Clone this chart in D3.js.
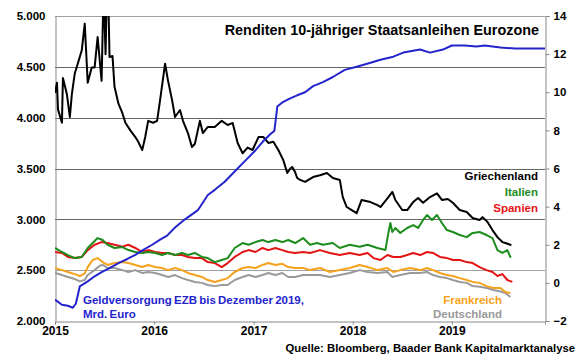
<!DOCTYPE html>
<html>
<head>
<meta charset="utf-8">
<script src="https://cdn.jsdelivr.net/npm/d3@7"></script>
<style>
  html, body { margin: 0; padding: 0; background: #fff; }
  svg { display: block; }
  text { font-family: "Liberation Sans", Arial, sans-serif; font-weight: bold; }
</style>
</head>
<body>
<svg id="chart" width="580" height="359"></svg>
<script>
// ---------- DATA (time as decimal year, yields in %, EZB in Mrd. Euro) ----------
const title = "Renditen 10-jähriger Staatsanleihen Eurozone";
const source = "Quelle: Bloomberg, Baader Bank Kapitalmarktanalyse";
const yearTicks = [2015, 2016, 2017, 2018, 2019];
const leftTicks = [2000, 2500, 3000, 3500, 4000, 4500, 5000];
const rightTicks = [-2, 0, 2, 4, 6, 8, 10, 12, 14];

const ezbData = [
  [2015.00,2210],[2015.07,2160],[2015.13,2150],[2015.18,2130],[2015.21,2170],[2015.25,2340],
  [2015.33,2390],[2015.40,2440],[2015.47,2480],[2015.55,2520],[2015.64,2570],[2015.73,2610],
  [2015.81,2650],[2015.89,2700],[2015.98,2750],[2016.06,2800],[2016.13,2840],[2016.21,2920],
  [2016.31,3000],[2016.44,3090],[2016.54,3240],[2016.61,3290],[2016.71,3370],[2016.81,3470],
  [2016.92,3580],[2017.02,3680],[2017.09,3760],[2017.17,3840],[2017.21,3870],[2017.24,4110],
  [2017.29,4150],[2017.37,4190],[2017.44,4220],[2017.52,4250],[2017.60,4310],[2017.70,4350],
  [2017.80,4400],[2017.92,4470],[2018.04,4500],[2018.18,4540],[2018.28,4570],[2018.41,4600],
  [2018.51,4640],[2018.68,4670],[2018.78,4640],[2018.91,4670],[2019.00,4710],[2019.13,4710],
  [2019.25,4700],[2019.33,4710],[2019.49,4690],[2019.64,4680],[2019.94,4680]
];

const greeceData = [
  [2015.00,9.96],[2015.02,10.5],[2015.03,9.1],[2015.07,8.4],[2015.08,10.75],[2015.12,9.9],
  [2015.15,8.7],[2015.17,9.9],[2015.20,11.0],[2015.23,11.5],[2015.27,12.2],[2015.30,13.6],
  [2015.33,10.5],[2015.37,11.3],[2015.40,11.3],[2015.43,12.9],[2015.47,10.6],[2015.49,15.5],
  [2015.51,12.0],[2015.53,17.0],[2015.55,11.85],[2015.58,11.9],[2015.60,10.3],[2015.64,9.4],
  [2015.68,8.9],[2015.71,8.4],[2015.76,8.0],[2015.81,7.65],[2015.84,7.4],[2015.88,6.97],
  [2015.91,7.65],[2015.94,8.5],[2015.99,8.4],[2016.03,8.5],[2016.06,9.6],[2016.11,11.5],
  [2016.14,10.6],[2016.18,9.6],[2016.21,8.7],[2016.26,9.07],[2016.29,8.5],[2016.34,7.86],
  [2016.38,7.13],[2016.41,7.3],[2016.46,8.5],[2016.49,7.86],[2016.54,8.18],[2016.61,8.18],
  [2016.68,8.5],[2016.74,8.28],[2016.79,8.39],[2016.84,7.34],[2016.89,6.8],[2016.94,7.1],
  [2016.99,6.97],[2017.05,7.65],[2017.10,7.65],[2017.15,7.34],[2017.20,7.4],[2017.25,6.97],
  [2017.30,6.44],[2017.34,5.76],[2017.37,6.0],[2017.39,6.08],[2017.42,5.8],[2017.44,5.5],
  [2017.47,5.4],[2017.52,5.3],[2017.60,5.55],[2017.67,5.65],[2017.74,5.76],[2017.80,5.5],
  [2017.87,5.4],[2017.90,4.5],[2017.94,3.98],[2017.99,3.82],[2018.04,3.66],[2018.09,4.35],
  [2018.18,4.24],[2018.25,4.08],[2018.28,3.98],[2018.36,4.5],[2018.40,4.77],[2018.43,4.35],
  [2018.50,3.82],[2018.55,3.82],[2018.61,4.24],[2018.66,4.45],[2018.71,4.2],[2018.78,4.5],
  [2018.85,4.7],[2018.90,4.35],[2018.96,4.4],[2019.01,4.2],[2019.08,3.82],[2019.15,3.72],
  [2019.21,3.4],[2019.28,3.3],[2019.31,3.45],[2019.36,3.19],[2019.41,2.77],[2019.46,2.4],
  [2019.51,2.14],[2019.54,2.09],[2019.59,2.0],[2019.60,1.97]
];

const italyData = [
  [2015.00,1.83],[2015.07,1.62],[2015.13,1.46],[2015.20,1.30],[2015.27,1.36],[2015.33,1.83],
  [2015.38,2.09],[2015.43,2.35],[2015.48,2.25],[2015.53,2.0],[2015.60,1.83],[2015.68,1.88],
  [2015.74,1.72],[2015.81,1.62],[2015.88,1.57],[2015.94,1.62],[2016.01,1.57],[2016.08,1.46],
  [2016.14,1.57],[2016.21,1.46],[2016.28,1.57],[2016.34,1.46],[2016.41,1.57],[2016.48,1.36],
  [2016.54,1.30],[2016.61,1.09],[2016.68,1.2],[2016.74,1.30],[2016.81,1.83],[2016.89,2.09],
  [2016.95,2.0],[2017.02,2.14],[2017.09,2.25],[2017.15,2.14],[2017.22,2.25],[2017.29,2.14],
  [2017.35,2.25],[2017.42,2.09],[2017.50,2.35],[2017.57,2.0],[2017.64,2.09],[2017.70,2.0],
  [2017.80,2.09],[2017.87,1.83],[2017.97,2.0],[2018.07,1.9],[2018.15,2.0],[2018.25,1.83],
  [2018.33,1.72],[2018.36,2.62],[2018.38,3.14],[2018.40,2.67],[2018.43,2.88],[2018.48,2.62],
  [2018.55,2.88],[2018.61,3.03],[2018.66,2.88],[2018.71,3.3],[2018.75,3.56],[2018.80,3.3],
  [2018.85,3.56],[2018.90,3.14],[2018.95,2.77],[2019.01,2.67],[2019.08,2.51],[2019.15,2.4],
  [2019.21,2.62],[2019.28,2.67],[2019.35,2.51],[2019.41,2.35],[2019.46,1.72],[2019.51,1.57],
  [2019.56,1.72],[2019.59,1.36],[2019.60,1.35]
];

const spainData = [
  [2015.00,1.62],[2015.07,1.57],[2015.13,1.36],[2015.20,1.30],[2015.27,1.36],[2015.33,1.72],
  [2015.40,2.0],[2015.47,2.14],[2015.53,2.09],[2015.60,2.0],[2015.68,1.9],[2015.74,2.0],
  [2015.81,1.83],[2015.88,1.62],[2015.94,1.72],[2016.01,1.62],[2016.08,1.57],[2016.14,1.57],
  [2016.21,1.46],[2016.28,1.46],[2016.34,1.36],[2016.41,1.30],[2016.48,1.30],[2016.54,1.09],
  [2016.61,1.04],[2016.68,0.83],[2016.74,1.04],[2016.81,1.36],[2016.89,1.62],[2016.95,1.72],
  [2017.02,1.62],[2017.09,1.83],[2017.15,1.72],[2017.22,1.83],[2017.29,1.72],[2017.35,1.62],
  [2017.42,1.57],[2017.50,1.62],[2017.57,1.57],[2017.67,1.72],[2017.77,1.57],[2017.87,1.46],
  [2017.97,1.57],[2018.07,1.46],[2018.15,1.57],[2018.21,1.3],[2018.28,1.2],[2018.35,1.46],
  [2018.41,1.36],[2018.48,1.36],[2018.55,1.46],[2018.61,1.57],[2018.68,1.46],[2018.75,1.62],
  [2018.81,1.57],[2018.88,1.36],[2018.95,1.30],[2019.01,1.2],[2019.08,1.2],[2019.15,1.09],
  [2019.21,1.04],[2019.28,0.83],[2019.35,0.67],[2019.41,0.57],[2019.46,0.36],[2019.51,0.46],
  [2019.56,0.15],[2019.61,0.05]
];

const franceData = [
  [2015.00,0.78],[2015.07,0.67],[2015.13,0.57],[2015.20,0.46],[2015.25,0.36],[2015.30,0.5],
  [2015.33,0.83],[2015.38,1.2],[2015.43,1.3],[2015.48,1.09],[2015.53,0.94],[2015.60,1.04],
  [2015.68,1.09],[2015.74,1.04],[2015.81,0.94],[2015.88,0.83],[2015.94,0.94],[2016.01,0.83],
  [2016.08,0.78],[2016.14,0.67],[2016.21,0.78],[2016.28,0.67],[2016.34,0.52],[2016.41,0.41],
  [2016.48,0.31],[2016.54,0.15],[2016.61,0.05],[2016.68,0.15],[2016.74,0.25],[2016.81,0.57],
  [2016.89,0.78],[2016.95,0.83],[2017.02,0.78],[2017.09,0.94],[2017.15,1.04],[2017.22,0.94],
  [2017.29,1.0],[2017.35,0.83],[2017.42,0.78],[2017.50,0.78],[2017.57,0.67],[2017.67,0.78],
  [2017.77,0.57],[2017.87,0.67],[2017.97,0.78],[2018.07,0.94],[2018.15,0.83],[2018.25,0.67],
  [2018.35,0.78],[2018.41,0.57],[2018.48,0.67],[2018.58,0.78],[2018.68,0.67],[2018.75,0.78],
  [2018.81,0.67],[2018.88,0.52],[2018.95,0.41],[2019.01,0.36],[2019.08,0.25],[2019.15,0.15],
  [2019.21,0.05],[2019.28,0.0],[2019.35,-0.17],[2019.42,-0.27],[2019.49,-0.27],[2019.54,-0.48],
  [2019.59,-0.53]
];

const germanyData = [
  [2015.00,0.52],[2015.07,0.41],[2015.13,0.31],[2015.20,0.2],[2015.25,0.08],[2015.30,0.15],
  [2015.33,0.41],[2015.40,0.67],[2015.45,0.9],[2015.48,0.94],[2015.53,0.78],[2015.60,0.78],
  [2015.68,0.67],[2015.74,0.57],[2015.81,0.67],[2015.88,0.52],[2015.94,0.57],[2016.01,0.52],
  [2016.08,0.41],[2016.14,0.31],[2016.21,0.41],[2016.28,0.25],[2016.34,0.15],[2016.41,0.05],
  [2016.48,0.0],[2016.54,-0.11],[2016.61,-0.17],[2016.68,-0.11],[2016.74,-0.11],[2016.81,0.15],
  [2016.89,0.31],[2016.95,0.41],[2017.02,0.31],[2017.09,0.41],[2017.15,0.52],[2017.22,0.41],
  [2017.29,0.52],[2017.35,0.31],[2017.42,0.31],[2017.50,0.41],[2017.57,0.41],[2017.67,0.41],
  [2017.77,0.31],[2017.87,0.41],[2017.97,0.52],[2018.07,0.67],[2018.15,0.57],[2018.25,0.52],
  [2018.35,0.57],[2018.40,0.31],[2018.48,0.41],[2018.58,0.52],[2018.68,0.52],[2018.75,0.57],
  [2018.81,0.41],[2018.88,0.31],[2018.95,0.25],[2019.01,0.15],[2019.08,0.05],[2019.15,0.0],
  [2019.21,-0.17],[2019.28,-0.2],[2019.35,-0.27],[2019.42,-0.37],[2019.49,-0.45],[2019.54,-0.53],
  [2019.59,-0.74]
];

const seriesNames = ["Deutschland", "Frankreich", "Spanien", "Italien", "Griechenland"];
const seriesColors = ["#9a9a9a", "#f5a21c", "#e41414", "#1c8c1c", "#000000"];
const ezbColor = "#2424cc";

// ---------- LAYOUT ----------
const W = 580, H = 359;
const m = { left: 55, right: 545, top: 16, bottom: 321 };

function toDate(t) {
  const y = Math.floor(t);
  const a = Date.UTC(y, 0, 1), b = Date.UTC(y + 1, 0, 1);
  return new Date(a + (t - y) * (b - a));
}

const x = d3.scaleUtc().domain([Date.UTC(2015, 0, 1), Date.UTC(2019, 11, 10)]).range([m.left, m.right]);
const yL = d3.scaleLinear().domain([2000, 5000]).range([m.bottom, m.top]);
const yR = d3.scaleLinear().domain([-2, 14]).range([m.bottom, m.top]);

const de = d3.formatLocale({ decimal: ",", thousands: ".", grouping: [3], currency: ["", "€"] });
const fmtL = de.format(",");

const svg = d3.select("#chart");

svg.append("defs").append("clipPath").attr("id", "plotclip")
  .append("rect").attr("x", m.left).attr("y", m.top)
  .attr("width", m.right - m.left).attr("height", m.bottom - m.top);

// gridlines
svg.append("g").selectAll("line").data(leftTicks.filter(d => d > 2000)).join("line")
  .attr("x1", m.left).attr("x2", m.right)
  .attr("y1", d => Math.round(yL(d)) + 0.5).attr("y2", d => Math.round(yL(d)) + 0.5)
  .attr("stroke", d => (d === 5000 || d === 2500) ? "#a0a0a0" : "#666")
  .attr("stroke-width", 1);

// left axis
const axL = d3.axisLeft(yL).tickValues(leftTicks).tickFormat(fmtL).tickSize(0).tickPadding(10);
const gL = svg.append("g").attr("transform", `translate(${m.left + 0.5},0)`).call(axL);
gL.select(".domain").attr("stroke", "#888");
gL.selectAll("text").attr("font-size", 11.5).attr("fill", "#000")
  .style("font-family", '"Liberation Sans", Arial, sans-serif').style("font-weight", "bold");

// right axis
const axR = d3.axisRight(yR).tickValues(rightTicks).tickSize(4).tickPadding(4);
const gR = svg.append("g").attr("transform", `translate(${m.right + 0.5},0)`).call(axR);
gR.select(".domain").attr("stroke", "#888");
gR.selectAll(".tick line").attr("stroke", "#888");
gR.selectAll("text").attr("font-size", 11.5).attr("fill", "#000")
  .style("font-family", '"Liberation Sans", Arial, sans-serif').style("font-weight", "bold");

// bottom axis
const axB = d3.axisBottom(x).tickValues(yearTicks.map(yv => new Date(Date.UTC(yv, 0, 1))))
  .tickFormat(d3.utcFormat("%Y")).tickSize(3).tickPadding(2);
const gB = svg.append("g").attr("transform", `translate(0,${m.bottom + 0.5})`).call(axB);
gB.select(".domain").attr("stroke", "#888");
gB.selectAll(".tick line").attr("stroke", "#888");
gB.selectAll("text").attr("font-size", 12).attr("fill", "#000")
  .style("font-family", '"Liberation Sans", Arial, sans-serif').style("font-weight", "bold");

// lines
const plot = svg.append("g").attr("clip-path", "url(#plotclip)");
const lineR = d3.line().x(d => x(toDate(d[0]))).y(d => yR(d[1]));
const lineL = d3.line().x(d => x(toDate(d[0]))).y(d => yL(d[1]));

const yieldData = [germanyData, franceData, spainData, italyData, greeceData];
yieldData.forEach((data, i) => {
  plot.append("path").datum(data).attr("d", lineR)
    .attr("fill", "none").attr("stroke", seriesColors[i])
    .attr("stroke-width", 2).attr("stroke-linejoin", "round");
});
plot.append("path").datum(ezbData).attr("d", lineL)
  .attr("fill", "none").attr("stroke", ezbColor)
  .attr("stroke-width", 2).attr("stroke-linejoin", "round");

// title
svg.append("text").attr("x", 539).attr("y", 35).attr("text-anchor", "end")
  .attr("font-size", 14.4).attr("fill", "#000").text(title);

// series labels
const labelPos = {
  "Griechenland": [538, 180], "Italien": [538, 196], "Spanien": [538, 212],
  "Frankreich": [502, 304], "Deutschland": [502, 318]
};
seriesNames.forEach((n, i) => {
  svg.append("text").attr("x", labelPos[n][0]).attr("y", labelPos[n][1])
    .attr("text-anchor", "end").attr("font-size", 11.5)
    .attr("fill", i === 0 ? "#999" : (i === 1 ? "#f5a21c" : seriesColors[i])).text(n);
});

// EZB label
const ezbLabel = ["Geldversorgung EZB bis Dezember 2019,", "Mrd. Euro"];
ezbLabel.forEach((t, i) => {
  svg.append("text").attr("x", 83).attr("y", 304 + i * 14)
    .attr("font-size", 11.5).attr("fill", ezbColor).attr("word-spacing", -1).text(t);
});

// source
svg.append("text").attr("x", 575).attr("y", 352).attr("text-anchor", "end")
  .attr("font-size", 11.3).attr("fill", "#000").text(source);
</script>
</body>
</html>
